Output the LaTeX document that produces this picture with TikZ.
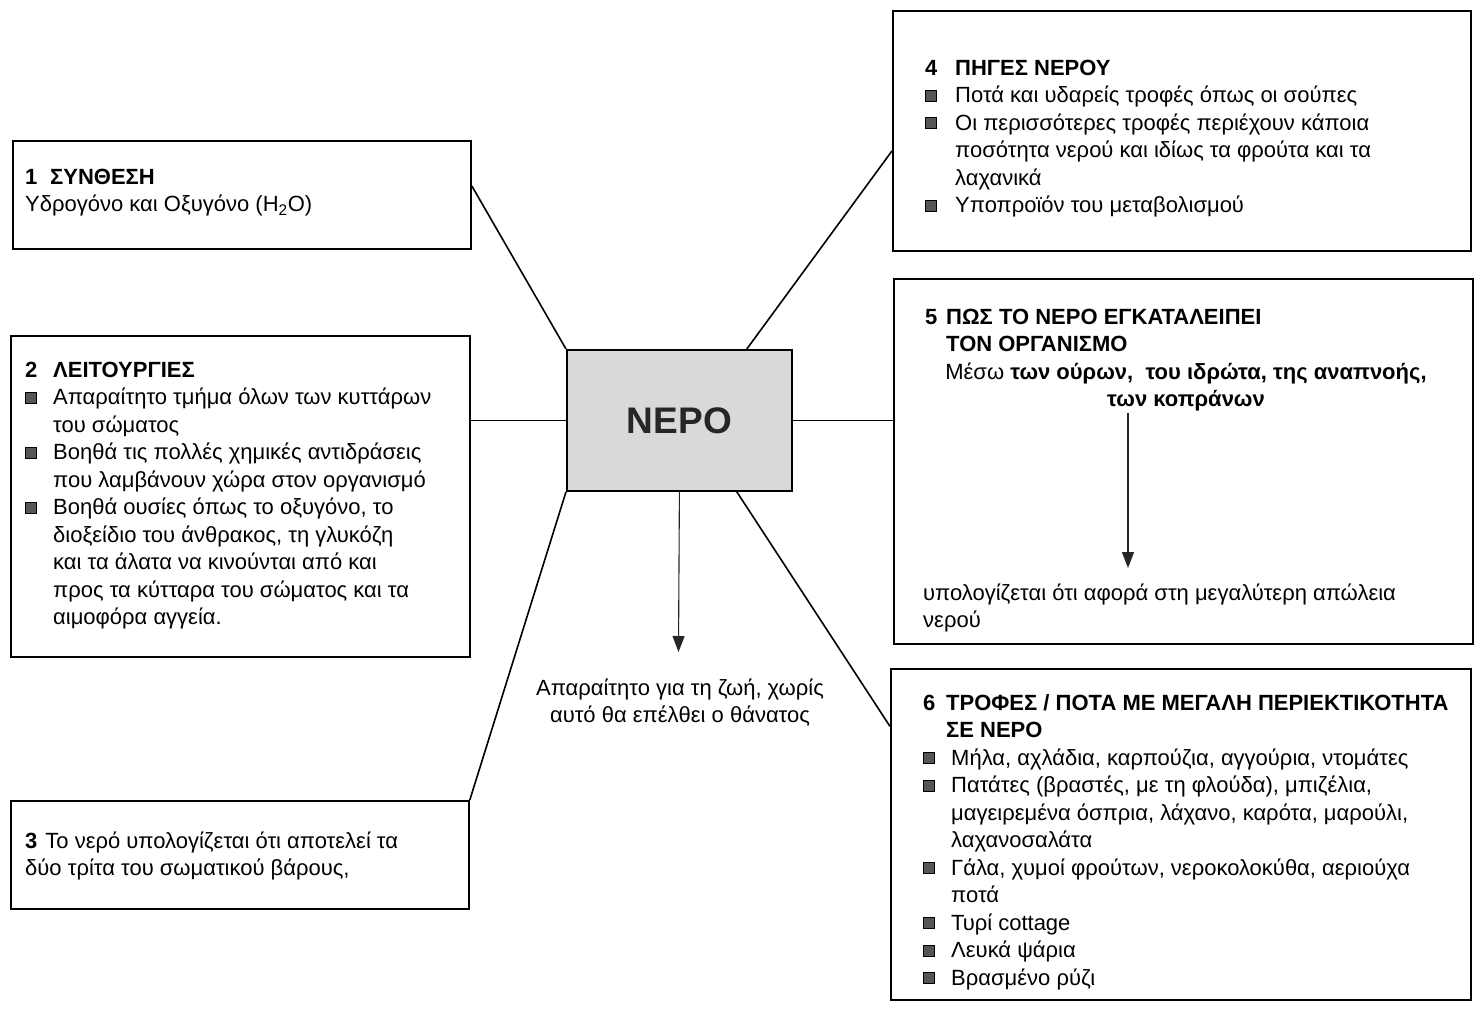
\documentclass[tikz,border=0pt]{standalone}
\usepackage{fontspec}
\setmainfont{Liberation Sans}
\usetikzlibrary{arrows.meta,calc}
\definecolor{nerogray}{HTML}{D9D9D9}
\definecolor{bulgray}{HTML}{555555}
\newcommand\bodyfont{\fontsize{22}{27.5}\selectfont}
\newcommand\bulsq{\makebox[28pt][l]{\raisebox{2pt}{\setlength\fboxsep{0pt}\setlength\fboxrule{0.8pt}\fcolorbox{black}{bulgray}{\rule{0pt}{10pt}\hspace{10pt}}}}}
\newcommand\hd[2]{\makebox[#1][l]{\textbf{#2}}}
\begin{document}
\begin{tikzpicture}[x=1pt,y=-1pt,
  box/.style={draw,line width=1.8pt,inner sep=0pt,anchor=north west},
  txt/.style={anchor=north west,inner sep=0pt,font=\bodyfont,align=left},
  conn/.style={line width=1.6pt},
  arr/.style={line width=1.1pt,-{Triangle[length=16pt,width=12pt]},draw=black!85}]
\useasboundingbox (0,0) rectangle (1476,1021);
% boxes
\node[box,minimum width=458pt,minimum height=108pt] (box1) at (12,140) {};
\node[box,minimum width=459pt,minimum height=321pt] (box2) at (10,335) {};
\node[box,minimum width=458pt,minimum height=108pt] (box3) at (10,800) {};
\node[box,minimum width=578pt,minimum height=240pt] (box4) at (892,10) {};
\node[box,minimum width=579pt,minimum height=365pt] (box5) at (893,278) {};
\node[box,minimum width=580pt,minimum height=331pt] (box6) at (890,668) {};
\node[box,fill=nerogray,minimum width=225pt,minimum height=141pt] (nero) at (566,349) {};
\node[font=\fontsize{37}{40}\selectfont\bfseries,text=black!85] (nerolbl) at (nero.center) {NEPO};
% texts
\node[txt] (t1) at (25,164.75) {\begin{tabular}{@{}l@{}}
\hd{25pt}{1}\textbf{ΣΥΝΘΕΣΗ}\\
Υδρογόνο και Οξυγόνο (H\textsubscript{2}O)
\end{tabular}};
\node[txt] (t2) at (25,357.75) {\begin{tabular}{@{}l@{}l@{}}
\hd{28pt}{2} & \textbf{ΛΕΙΤΟΥΡΓΙΕΣ}\\
\bulsq & Απαραίτητο τμήμα όλων των κυττάρων\\
 & του σώματος\\
\bulsq & Βοηθά τις πολλές χημικές αντιδράσεις\\
 & που λαμβάνουν χώρα στον οργανισμό\\
\bulsq & Βοηθά ουσίες όπως το οξυγόνο, το\\
 & διοξείδιο του άνθρακος, τη γλυκόζη\\
 & και τα άλατα να κινούνται από και\\
 & προς τα κύτταρα του σώματος και τα\\
 & αιμοφόρα αγγεία.
\end{tabular}};
\node[txt] (t3) at (25,828.75) {\begin{tabular}{@{}l@{}}
\textbf{3}\hspace{8pt}Το νερό υπολογίζεται ότι αποτελεί τα\\
δύο τρίτα του σωματικού βάρους,
\end{tabular}};
\node[txt] (t4) at (925,55.75) {\begin{tabular}{@{}l@{}l@{}}
\hd{30pt}{4} & \textbf{ΠΗΓΕΣ ΝΕΡΟΥ}\\
\bulsq & Ποτά και υδαρείς τροφές όπως οι σούπες\\
\bulsq & Οι περισσότερες τροφές περιέχουν κάποια\\
 & ποσότητα νερού και ιδίως τα φρούτα και τα\\
 & λαχανικά\\
\bulsq & Υποπροϊόν του μεταβολισμού
\end{tabular}};
\node[txt] (t5) at (925,304.75) {\begin{tabular}{@{}l@{}l@{}}
\hd{21pt}{5} & \textbf{ΠΩΣ ΤΟ ΝΕΡΟ ΕΓΚΑΤΑΛΕΙΠΕΙ}\\
 & \textbf{ΤΟΝ ΟΡΓΑΝΙΣΜΟ}
\end{tabular}};
\node[txt,anchor=north,align=center] (t5b) at (1186,359.75) {\begin{tabular}{@{}c@{}}
Μέσω \textbf{των ούρων,\ \ του ιδρώτα, της αναπνοής,}\\
\textbf{των κοπράνων}
\end{tabular}};
\node[txt] (t5c) at (923,580.75) {\begin{tabular}{@{}l@{}}
υπολογίζεται ότι αφορά στη μεγαλύτερη απώλεια\\
νερού
\end{tabular}};
\node[txt] (t6) at (923,690.75) {\begin{tabular}{@{}l@{}l@{}}
\hd{23pt}{6} & \textbf{ΤΡΟΦΕΣ / ΠΟΤΑ ΜΕ ΜΕΓΑΛΗ ΠΕΡΙΕΚΤΙΚΟΤΗΤΑ}\\
 & \textbf{ΣΕ ΝΕΡΟ}
\end{tabular}};
\node[txt] (t6b) at (923,745.75) {\begin{tabular}{@{}l@{}l@{}}
\bulsq & Μήλα, αχλάδια, καρπούζια, αγγούρια, ντομάτες\\
\bulsq & Πατάτες (βραστές, με τη φλούδα), μπιζέλια,\\
 & μαγειρεμένα όσπρια, λάχανο, καρότα, μαρούλι,\\
 & λαχανοσαλάτα\\
\bulsq & Γάλα, χυμοί φρούτων, νεροκολοκύθα, αεριούχα\\
 & ποτά\\
\bulsq & Τυρί cottage\\
\bulsq & Λευκά ψάρια\\
\bulsq & Βρασμένο ρύζι
\end{tabular}};
\node[txt,anchor=north,align=center] (life) at (680,675.75) {\begin{tabular}{@{}c@{}}
Απαραίτητο για τη ζωή, χωρίς\\
αυτό θα επέλθει ο θάνατος
\end{tabular}};
% connectors
\draw[conn] ([yshift=9pt]box1.east) -- (nero.north west);
\draw[conn] (nero.west) -- (nero.west -| box2.east);
\draw[conn] (box3.north east) -- (nero.south west);
\draw[conn] ([xshift=-46pt]nero.north east) -- ([yshift=-20pt]box4.west);
\draw[conn] (nero.east) -- (nero.east -| box5.west);
\draw[conn] ([xshift=-56pt]nero.south east) -- ([yshift=108pt]box6.west);
\coordinate (lifetip) at (678.5,652);
\draw[arr] (nero.south) -- (lifetip);
\coordinate (out1) at (1128,413);
\coordinate (out2) at (1128,568);
\draw[arr] (out1) -- (out2);
\end{tikzpicture}
\end{document}
